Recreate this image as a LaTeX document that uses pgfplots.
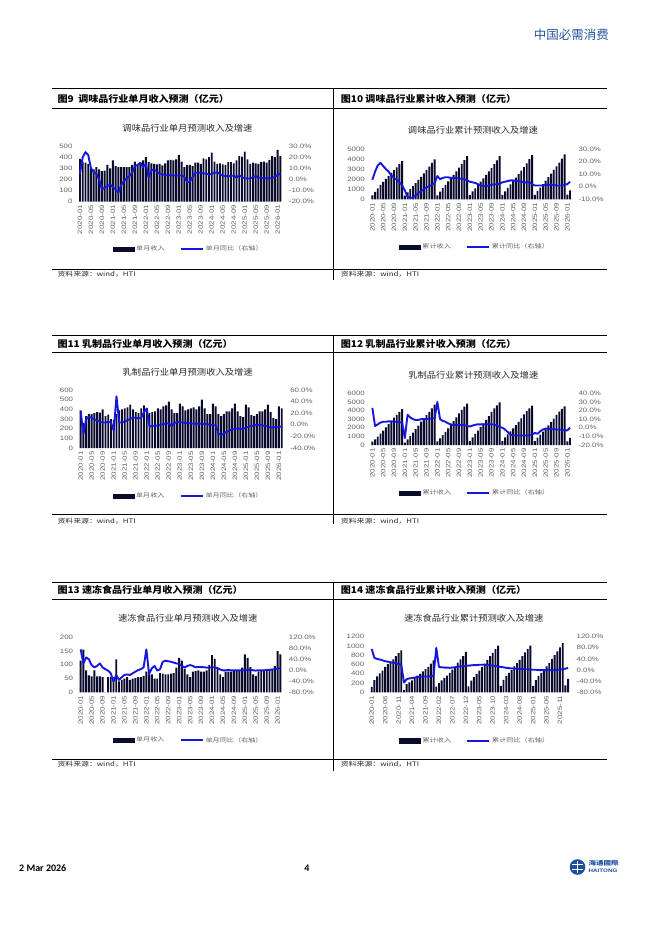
\documentclass[border=0pt]{standalone}
\usepackage{fontspec}
\usepackage{pgfplots}
\pgfplotsset{compat=1.18}
\usepackage{pgfplotstable}
\setmainfont{Liberation Sans}
\newfontfamily\tickfont[FakeStretch=1.25]{Liberation Sans}
\newfontfamily\cjkA[FakeStretch=1.08]{Noto Sans CJK SC}
\newfontfamily\cjkB[FakeStretch=1.25]{Noto Sans CJK SC}
\newfontfamily\cjkH{Noto Sans CJK SC}
\newfontfamily\carlito{Carlito}
\definecolor{barc}{RGB}{10,10,45}
\definecolor{linec}{RGB}{22,22,225}
\definecolor{txtg}{RGB}{100,100,100}
\definecolor{ttlg}{RGB}{40,40,40}
\definecolor{hdrblue}{RGB}{38,88,160}
\definecolor{logoblue}{RGB}{30,80,160}

% ---------- data: i = month index from 2020-01, b = revenue (bars), l = YoY % (line)
\pgfplotstableread[row sep=\\]{i b l\\
0 385 5\\1 355 20\\2 350 24.5\\3 340 22\\4 300 10\\5 290 6.5\\6 310 5\\7 290 0\\8 275 -9\\9 280 -7.5\\10 330 -6\\11 300 -4.5\\
12 370 -7\\13 320 -9\\14 310 -12\\15 310 -5\\16 310 -1.5\\17 310 1\\18 310 3\\19 330 6\\20 360 12\\21 330 13\\22 350 15\\23 370 11\\
24 400 14\\25 355 1.5\\26 345 8\\27 340 9\\28 335 7\\29 340 5\\30 325 4.5\\31 345 4\\32 370 4\\33 375 4\\34 370 3.5\\35 380 3.5\\
36 420 3.5\\37 360 3.5\\38 310 2.5\\39 330 -2.5\\40 330 -2\\41 320 2\\42 350 6\\43 350 6\\44 340 6\\45 390 5.5\\46 380 5\\47 400 4.5\\
48 440 5\\49 360 6\\50 340 6.5\\51 345 4.5\\52 335 3.5\\53 330 3\\54 355 3\\55 355 3\\56 345 3.5\\57 370 1.5\\58 410 3.8\\59 405 2\\
60 450 1\\61 380 0.8\\62 340 0.8\\63 350 2\\64 345 3\\65 340 1.5\\66 355 1.5\\67 360 1\\68 350 1\\69 375 1\\70 410 1.2\\71 400 2.5\\
72 465 4\\73 410 5.5\\}\tabA

\pgfplotstableread[row sep=\\]{i b l\\
0 385 5.5\\1 740 12\\2 1090 17\\3 1430 19\\4 1730 16.5\\5 2020 14\\6 2330 12\\7 2620 9\\8 2895 7\\9 3175 5.5\\10 3505 3.5\\11 3805 1\\
12 370 -3\\13 690 -8\\14 1000 -9\\15 1310 -8.5\\16 1620 -7\\17 1930 -5\\18 2240 -3.5\\19 2570 -2\\20 2930 -0.5\\21 3260 0.5\\22 3610 1.5\\23 3980 3\\
24 400 8.5\\25 755 6\\26 1100 7\\27 1440 7.5\\28 1775 7.5\\29 2115 7\\30 2440 7\\31 2785 7\\32 3155 6.5\\33 3530 6.5\\34 3900 6\\35 4280 5\\
36 420 4\\37 780 3.5\\38 1090 3\\39 1420 2\\40 1750 1\\41 2070 0.5\\42 2420 0.5\\43 2770 1\\44 3110 1.5\\45 3500 2\\46 3880 2\\47 4280 2.5\\
48 440 3.5\\49 800 4\\50 1140 4.5\\51 1485 5\\52 1820 5\\53 2150 4.5\\54 2505 4.5\\55 2860 4\\56 3205 3.5\\57 3575 3.5\\58 3985 3.5\\59 4390 2\\
60 450 1\\61 830 1\\62 1170 1\\63 1520 1\\64 1865 1.5\\65 2205 1.5\\66 2560 1.5\\67 2920 1.5\\68 3270 1\\69 3645 1\\70 4055 1\\71 4455 1.5\\
72 465 2\\73 875 4\\}\tabB

\pgfplotstableread[row sep=\\]{i b l\\
0 390 23\\1 260 -16\\2 330 10\\3 350 14\\4 350 12\\5 360 9\\6 370 7\\7 365 5\\8 400 4\\9 330 4\\10 345 5\\11 300 4\\
12 290 -10\\13 350 49\\14 390 4\\15 400 4\\16 410 6\\17 420 8\\18 450 10\\19 400 12.5\\20 370 12\\21 360 11\\22 410 12\\23 440 22\\
24 410 28\\25 360 -3\\26 370 -2\\27 380 -2\\28 410 -1\\29 400 0\\30 430 1\\31 440 2\\32 480 3\\33 400 -2.5\\34 360 3\\35 360 5\\
36 460 5\\37 430 4\\38 390 3\\39 400 3\\40 410 2.5\\41 420 2\\42 400 2\\43 430 2\\44 500 2\\45 410 1.5\\46 350 1\\47 350 0\\
48 460 -0.5\\49 430 -1\\50 350 -15\\51 330 -18\\52 350 -15\\53 380 -12\\54 380 -10\\55 410 -8\\56 460 -7\\57 380 -6.5\\58 330 -7\\59 320 -7\\
60 450 -5\\61 420 -3\\62 340 -2\\63 330 -1\\64 350 0\\65 380 0\\66 380 -1\\67 400 -2\\68 450 -3\\69 370 -5\\70 310 -4\\71 300 -4\\
72 430 -3.5\\73 410 -3\\}\tabC

\pgfplotstableread[row sep=\\]{i b l\\
0 390 23\\1 650 2\\2 980 4\\3 1330 6\\4 1680 7\\5 2040 7\\6 2410 7.5\\7 2775 7.5\\8 3175 7\\9 3505 7\\10 3850 6.5\\11 4150 6\\
12 290 -12\\13 640 15\\14 1030 12\\15 1430 10\\16 1840 9\\17 2260 9\\18 2710 10\\19 3110 10\\20 3480 10\\21 3840 10.5\\22 4250 11\\23 4690 11\\
24 410 30\\25 770 10\\26 1140 8\\27 1520 7\\28 1930 5\\29 2330 4\\30 2760 3\\31 3200 3\\32 3680 3\\33 4080 3\\34 4440 3\\35 4800 2\\
36 460 1.5\\37 890 2.5\\38 1280 3.5\\39 1680 4\\40 2090 4\\41 2510 4\\42 2910 4\\43 3340 4\\44 3840 4\\45 4250 3.5\\46 4600 2.5\\47 4950 1\\
48 460 0\\49 890 -2\\50 1240 -5\\51 1570 -8\\52 1920 -9\\53 2300 -9\\54 2680 -9\\55 3090 -9\\56 3550 -9\\57 3930 -9\\58 4260 -8.5\\59 4580 -8\\
60 450 -6\\61 870 -7\\62 1210 -4\\63 1540 -2\\64 1890 -1\\65 2270 -1\\66 2650 -1.5\\67 3050 -1.5\\68 3500 -2\\69 3870 -2\\70 4180 -2.5\\71 4480 -3\\
72 430 -3\\73 840 0\\}\tabD

\pgfplotstableread[row sep=\\]{i b l\\
0 115 76\\1 155 25\\2 80 47\\3 62 40\\4 58 19\\5 80 11\\6 58 16\\7 58 25\\8 55 11\\9 0 4\\10 55 -1\\11 55 -11\\
12 55 -41\\13 120 -17\\14 40 -35\\15 45 -25\\16 50 -17\\17 55 -15\\18 45 -17\\19 50 -11\\20 52 -5\\21 55 1\\22 55 4\\23 60 11\\
24 75 76\\25 65 -13\\26 65 7\\27 50 16\\28 50 -1\\29 70 4\\30 68 31\\31 65 35\\32 65 33\\33 68 31\\34 70 28\\35 90 25\\
36 125 23\\37 115 16\\38 85 10\\39 65 16\\40 55 19\\41 75 16\\42 78 11\\43 80 12\\44 75 12\\45 75 11\\46 80 10\\47 100 10\\
48 135 11\\49 122 11\\50 85 8\\51 65 3\\52 55 0\\53 75 0\\54 75 1\\55 75 0\\56 80 0\\57 80 0\\58 80 0\\59 90 0\\
60 138 0\\61 125 1\\62 92 2\\63 65 0\\64 60 -1\\65 75 0\\66 80 0\\67 82 0\\68 82 1\\69 82 2\\70 85 3\\71 95 4\\
72 150 6\\73 138 8\\}\tabE

\pgfplotstableread[row sep=\\]{i b l\\
0 115 76\\1 265 44\\2 345 40\\3 410 38\\4 470 35\\5 550 32\\6 610 30\\7 660 28\\8 710 26\\9 780 25\\10 850 22\\11 905 19\\
12 55 -45\\13 175 -33\\14 215 -30\\15 260 -29\\16 310 -27\\17 360 -25\\18 400 -24\\19 450 -23\\20 500 -23\\21 550 -23\\22 620 -22\\23 690 -21\\
24 120 80\\25 200 11\\26 260 10\\27 310 9\\28 360 9\\29 420 8\\30 490 9\\31 550 10\\32 640 12\\33 710 13\\34 780 14\\35 870 15\\
36 130 16\\37 250 17\\38 330 18\\39 400 18\\40 470 19\\41 550 19\\42 620 19\\43 700 18\\44 780 17\\45 850 16\\46 930 15\\47 1010 13\\
48 140 11\\49 270 10\\50 350 8\\51 420 7\\52 480 6\\53 560 5\\54 630 5\\55 700 4\\56 780 4\\57 860 3\\58 940 3\\59 1010 2\\
60 138 1\\61 263 1\\62 355 0\\63 420 0\\64 482 0\\65 557 0\\66 637 0\\67 719 0\\68 801 0\\69 883 1\\70 968 2\\71 1063 3\\
72 150 5\\73 288 8\\}\tabF

\pgfplotsset{
  common/.style={scale only axis, xmin=-0.5, xmax=73.5, axis line style={draw=none},
    tick style={draw=none}, major tick length=0pt, scaled y ticks=false,
    tick label style={font={\tickfont\fontsize{6.3}{7}\selectfont}, text=txtg}},
  leftax/.style={common, axis y line*=left, axis x line*=bottom, ymin=0,
    yticklabel style={anchor=east, inner sep=0pt, xshift=-6pt},
    xticklabel style={yshift=-3.3pt, rotate=90, anchor=east, inner sep=0pt}},
  rightax/.style={common, axis y line*=right, axis x line=none,
    yticklabel style={anchor=west, inner sep=0pt, xshift=7pt},
    legend columns=2,
    legend style={draw=none, fill=none, inner sep=0pt, outer sep=0pt, anchor=west,
      font={\cjkB\fontsize{5.7}{6}\selectfont}, text=txtg,
      /tikz/every even column/.append style={column sep=13pt}}},
  barplot/.style={ybar, bar width=0.7, fill=barc, draw=none},
  lineplot/.style={linec, line width=1.9pt, line join=round, mark=none,
    legend image code/.code={\draw[linec, line width=2pt] (0pt,0pt) -- (22pt,0pt);}},
  barlegend/.style={legend image code/.code={\fill[barc] (0pt,-2.2pt) rectangle (21pt,2.2pt);}},
  monthticks/.style={xtick={0,4,...,72}, xticklabels={2020-01,2020-05,2020-09,2021-01,2021-05,2021-09,2022-01,2022-05,2022-09,2023-01,2023-05,2023-09,2024-01,2024-05,2024-09,2025-01,2025-05,2025-09,2026-01}},
}

\begin{document}
\begin{tikzpicture}
\path[use as bounding box] (0pt,0pt) rectangle (662pt,-936pt);
\fill[white] (0pt,0pt) rectangle (662pt,-936pt);

\begin{scope}[x=1pt,y=-1pt]
% header
\node[anchor=east, inner sep=0pt, text=hdrblue, font={\cjkH\fontsize{12.5}{13}\selectfont}] at (609,35) {中国必需消费};

% frames
\foreach \T/\B/\S/\D in {89/108.3/269/280, 335/352.7/514.2/524, 582/599/759.5/771}{
  \draw[line width=1pt] (52,\T) -- (607,\T);
  \draw[line width=0.8pt] (52,\B) -- (607,\B);
  \draw[line width=0.7pt] (52,\S) -- (607,\S);
  \draw[line width=0.8pt] (333.6,\T) -- (333.6,\D);
}

% figure titles
\begin{scope}[every node/.style={anchor=west, inner sep=0pt, font={\cjkA\bfseries\fontsize{9.3}{10}\selectfont}}]
\node at (57.3,99) {图9\ \ 调味品行业单月收入预测（亿元）};
\node at (340.7,99) {图10 调味品行业累计收入预测（亿元）};
\node at (57.3,344) {图11 乳制品行业单月收入预测（亿元）};
\node at (340.7,344) {图12 乳制品行业累计收入预测（亿元）};
\node at (57.3,589.5) {图13 速冻食品行业单月收入预测（亿元）};
\node at (340.7,589.5) {图14 速冻食品行业累计收入预测（亿元）};
\end{scope}

% chart titles
\begin{scope}[every node/.style={inner sep=0pt, text=ttlg, font={\cjkA\fontsize{8.6}{9}\selectfont}}]
\node at (187.5,128) {调味品行业单月预测收入及增速};
\node at (473,130) {调味品行业累计预测收入及增速};
\node at (187.7,372.7) {乳制品行业单月预测收入及增速};
\node at (473.3,375) {乳制品行业累计预测收入及增速};
\node at (187.8,618.3) {速冻食品行业单月预测收入及增速};
\node at (473.7,618.3) {速冻食品行业累计预测收入及增速};
\end{scope}

% sources
\begin{scope}[every node/.style={anchor=west, inner sep=0pt, text=ttlg, font={\cjkB\fontsize{6.3}{7}\selectfont}}]
\node at (57.3,274.5) {资料来源：wind，HTI};
\node at (340.7,274.5) {资料来源：wind，HTI};
\node at (57.3,521.3) {资料来源：wind，HTI};
\node at (340.7,521.3) {资料来源：wind，HTI};
\node at (57.3,764.5) {资料来源：wind，HTI};
\node at (340.7,764.5) {资料来源：wind，HTI};
\end{scope}

% footer
\node[anchor=west, inner sep=0pt, font={\carlito\bfseries\fontsize{10}{11}\selectfont}] at (19,868.3) {2 Mar 2026};
\node[inner sep=0pt, font={\carlito\bfseries\fontsize{10}{11}\selectfont}] at (307,868.3) {4};
\fill[logoblue] (577.5,867) circle (7.8);
\draw[white, line width=0.9pt] (572,864.5) -- (583,864.5) (572,869.5) -- (583,869.5) (577.5,861) -- (577.5,873);
\node[anchor=west, inner sep=0pt, text=logoblue, font={\cjkB\bfseries\fontsize{6}{6}\selectfont}] at (588.5,863.3) {海通國際};
\node[anchor=west, inner sep=0pt, text=logoblue, font={\tickfont\bfseries\fontsize{5}{5}\selectfont}] at (588.5,871.2) {HAITONG};
\end{scope}

% ================= Chart 9
\begin{axis}[leftax, monthticks, at={(78.6pt,-201.7pt)}, anchor=south west, width=203.2pt, height=55.7pt,
  ymax=500, ytick={0,100,200,300,400,500}, yticklabels={0,100,200,300,400,500}]
\addplot[barplot] table[x=i,y=b]{\tabA};
\end{axis}
\begin{axis}[rightax, at={(78.6pt,-201.7pt)}, anchor=south west, width=203.2pt, height=55.7pt,
  ymin=-20, ymax=30, ytick={-20,-10,0,10,20,30}, yticklabels={-20.0\%,-10.0\%,0.0\%,10.0\%,20.0\%,30.0\%},
  legend style={at={(0.168,-0.849)}}]
\addlegendimage{barlegend}\addlegendentry{单月收入}
\addplot[lineplot] table[x=i,y=l]{\tabA};
\addlegendentry{单月同比（右轴）}
\end{axis}

% ================= Chart 10
\begin{axis}[leftax, monthticks, at={(371pt,-199.3pt)}, anchor=south west, width=200.4pt, height=50.3pt,
  ymax=5000, ytick={0,1000,2000,3000,4000,5000}, yticklabels={0,1000,2000,3000,4000,5000}]
\addplot[barplot] table[x=i,y=b]{\tabB};
\end{axis}
\begin{axis}[rightax, at={(371pt,-199.3pt)}, anchor=south west, width=200.4pt, height=50.3pt,
  ymin=-10, ymax=30, ytick={-10,0,10,20,30}, yticklabels={-10.0\%,0.0\%,10.0\%,20.0\%,30.0\%},
  legend style={at={(0.140,-0.954)}}]
\addlegendimage{barlegend}\addlegendentry{累计收入}
\addplot[lineplot] table[x=i,y=l]{\tabB};
\addlegendentry{累计同比（右轴）}
\end{axis}

% ================= Chart 11
\begin{axis}[leftax, monthticks, at={(79.3pt,-448pt)}, anchor=south west, width=203.8pt, height=58pt,
  ymax=600, ytick={0,100,200,300,400,500,600}, yticklabels={0,100,200,300,400,500,600}]
\addplot[barplot] table[x=i,y=b]{\tabC};
\end{axis}
\begin{axis}[rightax, at={(79.3pt,-448pt)}, anchor=south west, width=203.8pt, height=58pt,
  ymin=-40, ymax=60, ytick={-40,-20,0,20,40,60}, yticklabels={-40.0\%,-20.0\%,0.0\%,20.0\%,40.0\%,60.0\%},
  legend style={at={(0.164,-0.828)}}]
\addlegendimage{barlegend}\addlegendentry{单月收入}
\addplot[lineplot] table[x=i,y=l]{\tabC};
\addlegendentry{单月同比（右轴）}
\end{axis}

% ================= Chart 12
\begin{axis}[leftax, monthticks, at={(371pt,-445pt)}, anchor=south west, width=200.4pt, height=51.7pt,
  ymax=6000, ytick={0,1000,2000,3000,4000,5000,6000}, yticklabels={0,1000,2000,3000,4000,5000,6000}]
\addplot[barplot] table[x=i,y=b]{\tabD};
\end{axis}
\begin{axis}[rightax, at={(371pt,-445pt)}, anchor=south west, width=200.4pt, height=51.7pt,
  ymin=-20, ymax=40, ytick={-20,-10,0,10,20,30,40}, yticklabels={-20.0\%,-10.0\%,0.0\%,10.0\%,20.0\%,30.0\%,40.0\%},
  legend style={at={(0.141,-0.934)}}]
\addlegendimage{barlegend}\addlegendentry{累计收入}
\addplot[lineplot] table[x=i,y=l]{\tabD};
\addlegendentry{累计同比（右轴）}
\end{axis}

% ================= Chart 13
\begin{axis}[leftax, monthticks, at={(79.3pt,-692.3pt)}, anchor=south west, width=202.5pt, height=55pt,
  ymax=200, ytick={0,50,100,150,200}, yticklabels={0,50,100,150,200}]
\addplot[barplot] table[x=i,y=b]{\tabE};
\end{axis}
\begin{axis}[rightax, at={(79.3pt,-692.3pt)}, anchor=south west, width=202.5pt, height=55pt,
  ymin=-80, ymax=120, ytick={-80,-40,0,40,80,120}, yticklabels={-80.0\%,-40.0\%,0.0\%,40.0\%,80.0\%,120.0\%},
  legend style={at={(0.165,-0.873)}}]
\addlegendimage{barlegend}\addlegendentry{单月收入}
\addplot[lineplot] table[x=i,y=l]{\tabE};
\addlegendentry{单月同比（右轴）}
\end{axis}

% ================= Chart 14
\begin{axis}[leftax, at={(370.35pt,-692.3pt)}, anchor=south west, width=199.1pt, height=55.6pt,
  xtick={0,5,...,70}, xticklabels={2020-01,2020-06,2020-11,2021-04,2021-09,2022-02,2022-07,2022-12,2023-05,2023-10,2024-03,2024-08,2025-01,2025-06,2025-11},
  ymax=1200, ytick={0,200,400,600,800,1000,1200}, yticklabels={0,200,400,600,800,1000,1200}]
\addplot[barplot] table[x=i,y=b]{\tabF};
\end{axis}
\begin{axis}[rightax, at={(370.35pt,-692.3pt)}, anchor=south west, width=199.1pt, height=55.6pt,
  ymin=-80, ymax=120, ytick={-80,-40,0,40,80,120}, yticklabels={-80.0\%,-40.0\%,0.0\%,40.0\%,80.0\%,120.0\%},
  legend style={at={(0.145,-0.870)}}]
\addlegendimage{barlegend}\addlegendentry{累计收入}
\addplot[lineplot] table[x=i,y=l]{\tabF};
\addlegendentry{累计同比（右轴）}
\end{axis}
\end{tikzpicture}
\end{document}
